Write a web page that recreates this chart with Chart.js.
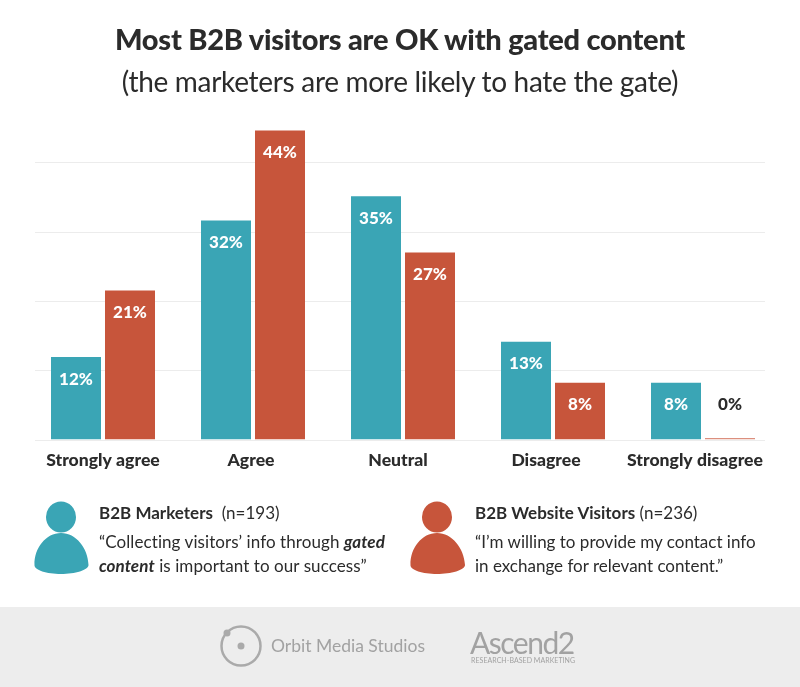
<!DOCTYPE html>
<html>
<head>
<meta charset="utf-8">
<script src="https://cdn.jsdelivr.net/npm/chart.js@4"></script>
<style>
html, body { margin: 0; padding: 0; background: #fff; }
#page { position: relative; width: 800px; height: 687px; overflow: hidden; font-family: Lato, sans-serif; color: #2b2b2b; }
#page canvas { position: absolute; left: 0; top: 0; }
.txt { position: absolute; white-space: nowrap; }
#title { left: 0; width: 800px; top: 20px; text-align: center; font-size: 29px; font-weight: 900; line-height: 38px; letter-spacing: -0.25px; }
#subtitle { left: 0; width: 800px; top: 62px; text-align: center; font-size: 28px; line-height: 38px; letter-spacing: -0.3px; }
.leg { font-size: 17px; line-height: 24px; }
#footer { position: absolute; left: 0; top: 607px; width: 800px; height: 80px; background: #ededed; }
.logo { color: #a2a2a2; }
svg { position: absolute; left: 0; top: 0; }
</style>
</head>
<body>
<div id="page">
  <div id="footer"></div>
  <canvas id="chart" width="800" height="687"></canvas>
  <svg width="800" height="687">
    <ellipse cx="61" cy="517" rx="15" ry="15.5" fill="#3aa5b5"/>
    <path d="M61 533 C76 533 88 548 88.500 565 C88.500 570 75 574 61 574 C47 574 34 570 34.500 565 C34 548 46 533 61 533Z" fill="#3aa5b5"/>
    <ellipse cx="437" cy="517" rx="15" ry="15.5" fill="#c7553b"/>
    <path d="M437 533 C452 533 464 548 465 565 C465 570 451 574 437 574 C423 574 410 570 410.500 565 C410 548 422 533 437 533Z" fill="#c7553b"/>
    <circle cx="241" cy="646" r="19.500" fill="none" stroke="#aaa" stroke-width="2.500"/>
    <circle cx="241" cy="646" r="3.500" fill="#aaa"/>
    <circle cx="227" cy="633" r="3.500" fill="#aaa"/>
  </svg>
  <div class="txt" id="title">Most B2B visitors are OK with gated content</div>
  <div class="txt" id="subtitle">(the marketers are more likely to hate the gate)</div>
  <div class="txt leg" style="left:99px;top:501px"><b>B2B Marketers</b>&nbsp; (n=193)</div>
  <div class="txt leg" style="left:99px;top:530px;letter-spacing:0.08px">“Collecting visitors’ info through <b><i>gated</i></b></div>
  <div class="txt leg" style="left:99px;top:554px;letter-spacing:0.08px"><b><i>content</i></b> is important to our success”</div>
  <div class="txt leg" style="left:475px;top:501px"><b>B2B Website Visitors</b> (n=236)</div>
  <div class="txt leg" style="left:475px;top:530px">“I’m willing to provide my contact info</div>
  <div class="txt leg" style="left:475px;top:554px">in exchange for relevant content.”</div>
  <div class="txt logo" style="left:271px;top:634px;font-size:17.500px;line-height:24px">Orbit Media Studios</div>
  <div class="txt logo" style="left:470px;top:623px;font-size:30px;line-height:38px;letter-spacing:-1.500px">Ascend2</div>
  <div class="txt logo" style="left:471px;top:656px;font-size:7px;line-height:9px;letter-spacing:0.05px">RESEARCH-BASED MARKETING</div>
</div>
<script>
const categories = ["Strongly agree", "Agree", "Neutral", "Disagree", "Strongly disagree"];
const marketers = [11.9, 31.6, 35.1, 14.1, 8.2];
const visitors = [21.5, 44.6, 27, 8.2, 0.2];
const marketerLabels = ["12%", "32%", "35%", "13%", "8%"];
const visitorLabels = ["21%", "44%", "27%", "8%", "0%"];
const gridValues = [0, 10, 20, 30, 40];

const TEAL = "#3aa5b5";
const RED = "#c7553b";
const labelNudge = [0, -2, -5, -7, -8]; // axis labels sit a little left of their bars

const drawExtras = {
    id: "drawExtras",
    beforeDatasetsDraw(chart) {
        const { ctx, scales } = chart;
        ctx.save();
        ctx.strokeStyle = "#ececec";
        ctx.lineWidth = 1;
        gridValues.forEach(v => {
            const y = Math.round(scales.y.getPixelForValue(v)) + 0.5;
            ctx.beginPath();
            ctx.moveTo(35, y);
            ctx.lineTo(765, y);
            ctx.stroke();
        });
        ctx.restore();
    },
    afterDatasetsDraw(chart) {
        const { ctx, scales } = chart;
        ctx.save();
        ctx.textAlign = "center";
        ctx.textBaseline = "middle";
        ctx.font = "900 17px Lato";
        [marketerLabels, visitorLabels].forEach((labels, d) => {
            chart.getDatasetMeta(d).data.forEach((bar, i) => {
                const isZero = labels[i] === "0%";
                ctx.fillStyle = isZero ? "#2b2b2b" : "#fff";
                ctx.fillText(labels[i], bar.x, isZero ? bar.base - 35 : bar.y + 22);
            });
        });
        ctx.fillStyle = "#2b2b2b";
        ctx.font = "900 17.6px Lato";
        categories.forEach((c, i) => {
            ctx.fillText(c, scales.x.getPixelForValue(i) + labelNudge[i], 460);
        });
        ctx.restore();
    }
};

new Chart(document.getElementById("chart"), {
    type: "bar",
    data: {
        labels: categories,
        datasets: [
            { label: "B2B Marketers", data: marketers, backgroundColor: TEAL },
            { label: "B2B Website Visitors", data: visitors, backgroundColor: visitors.map(v => v < 1 ? "#dc8f7e" : RED) }
        ]
    },
    options: {
        responsive: false,
        animation: false,
        categoryPercentage: 0.72,
        barPercentage: 0.926,
        layout: { padding: { left: 28, right: 22, top: 93, bottom: 247.5 } },
        plugins: { legend: { display: false }, tooltip: { enabled: false } },
        scales: {
            x: { display: false },
            y: { display: false, min: 0, max: 50 }
        }
    },
    plugins: [drawExtras]
});
</script>
</body>
</html>
